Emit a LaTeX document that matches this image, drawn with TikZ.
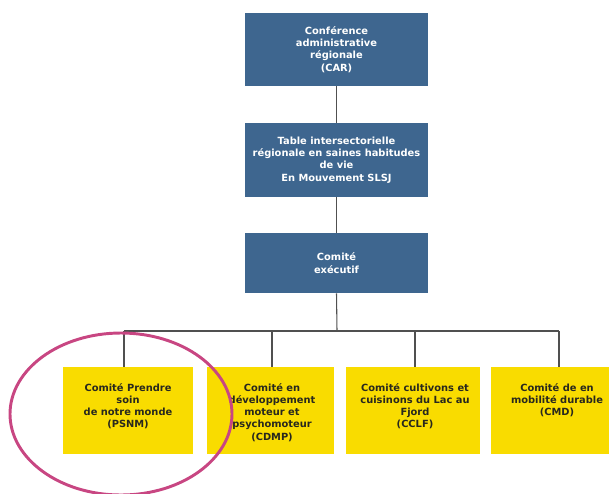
\documentclass[tikz,border=0pt]{standalone}
\usepackage{fontspec}
\setmainfont{DejaVu Sans}
\definecolor{bluebox}{RGB}{62,102,143}
\definecolor{yellowbox}{RGB}{249,220,0}
\definecolor{linegrey}{RGB}{80,80,80}
\definecolor{ringpink}{RGB}{200,70,130}
\definecolor{ytxt}{RGB}{40,40,30}
\tikzset{
  bbox/.style={fill=bluebox, draw=none, text=white, align=center, font=\fontsize{7.4}{9.2}\selectfont\bfseries, inner sep=0pt},
  ybox/.style={fill=yellowbox, draw=none, inner sep=0pt},
  ytext/.style={text=ytxt, align=center, font=\fontsize{7.4}{9.2}\selectfont\bfseries, inner sep=0pt, anchor=north},
  conn/.style={draw=linegrey, line width=0.8pt},
  ring/.style={draw=ringpink, line width=2.2pt}
}
\begin{document}
\begin{tikzpicture}[x=0.75pt,y=-0.75pt]
\useasboundingbox (0,0) rectangle (609,493);
% blue boxes
\node[bbox, minimum width=183*0.75pt, minimum height=73*0.75pt] (car) at (336.5,49.5) {Conférence\\administrative\\régionale\\(CAR)};
\node[bbox, minimum width=183*0.75pt, minimum height=74*0.75pt] (table) at (336.5,160) {Table intersectorielle\\régionale en saines habitudes\\de vie\\En Mouvement SLSJ};
\node[bbox, minimum width=183*0.75pt, minimum height=60*0.75pt] (exec) at (336.5,263) {Comité\\exécutif};
% yellow boxes
\node[ybox, minimum width=130*0.75pt, minimum height=87*0.75pt] (b1) at (128,410.5) {};
\node[ybox, minimum width=127*0.75pt, minimum height=87*0.75pt] (b2) at (270.5,410.5) {};
\node[ybox, minimum width=134*0.75pt, minimum height=87*0.75pt] (b3) at (413,410.5) {};
\node[ybox, minimum width=124*0.75pt, minimum height=87*0.75pt] (b4) at (553,410.5) {};
\node[ytext] (t1) at (128,383) {Comité Prendre\\soin\\de notre monde\\(PSNM)};
\node[ytext] (t2) at (272,383) {Comité en\\développement\\moteur et\\psychomoteur\\(CDMP)};
\node[ytext] (t3) at (415,383) {Comité cultivons et\\cuisinons du Lac au\\Fjord\\(CCLF)};
\node[ytext] (t4) at (557,383) {Comité de en\\mobilité durable\\(CMD)};
% connectors
\coordinate (bus) at (337,331);
\coordinate (d1) at (124,331);
\coordinate (d2) at (272,331);
\coordinate (d3) at (415,331);
\coordinate (d4) at (559,331);
\draw[conn] (car.south) -- (table.north);
\draw[conn] (table.south) -- (exec.north);
\draw[conn] (exec.south) -- (bus);
\draw[conn] (d1) -- (d4);
\draw[conn] (d1) -- (d1 |- b1.north);
\draw[conn] (d2) -- (d2 |- b2.north);
\draw[conn] (d3) -- (d3 |- b3.north);
\draw[conn] (d4) -- (d4 |- b4.north);
% highlight ring
\draw[ring] (121,414) ellipse [x radius=111, y radius=81];
\end{tikzpicture}
\end{document}
